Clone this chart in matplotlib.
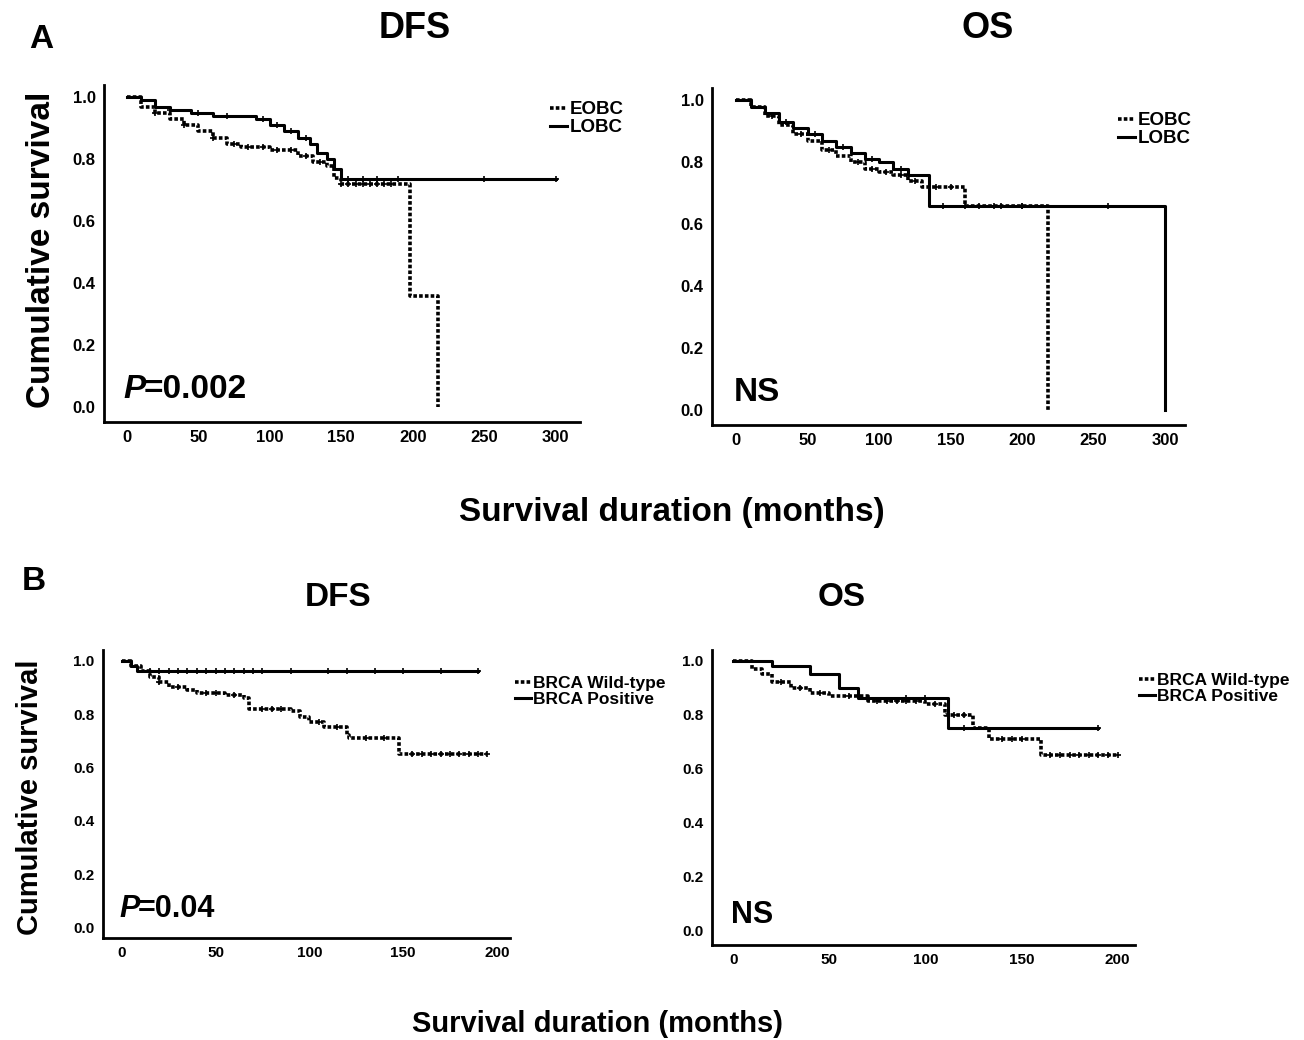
import numpy as np
import matplotlib
matplotlib.use("Agg")
import matplotlib.pyplot as plt

plt.rcParams['font.family'] = ['Liberation Sans', 'DejaVu Sans']
plt.rcParams['font.weight'] = 'bold'

# =========================================================
# DATA
# =========================================================

# Panel A DFS
a_dfs_eobc_t = [0, 10, 20, 30, 40, 50, 60, 70, 80, 100, 110, 120, 130, 140, 145, 150, 198, 218]
a_dfs_eobc_s = [1.0, 0.97, 0.95, 0.93, 0.91, 0.89, 0.87, 0.85, 0.84, 0.83, 0.83, 0.81, 0.79, 0.78, 0.74, 0.72, 0.36, 0.0]
a_dfs_eobc_c = [20, 40, 60, 75, 85, 95, 105, 115, 125, 135, 150, 155, 160, 165, 170, 175, 180, 185]
a_dfs_lobc_t = [0, 10, 20, 30, 45, 60, 80, 90, 100, 110, 120, 128, 133, 140, 145, 150]
a_dfs_lobc_s = [1.0, 0.99, 0.97, 0.96, 0.95, 0.94, 0.94, 0.93, 0.91, 0.89, 0.87, 0.85, 0.82, 0.80, 0.77, 0.735]
a_dfs_lobc_c = [30, 50, 70, 95, 105, 115, 125, 155, 165, 175, 190, 250, 300]

# Panel A OS
a_os_eobc_t = [0, 10, 20, 30, 40, 50, 60, 70, 80, 90, 100, 110, 120, 130, 160, 218]
a_os_eobc_s = [1.0, 0.98, 0.95, 0.92, 0.89, 0.87, 0.84, 0.82, 0.80, 0.78, 0.77, 0.76, 0.74, 0.72, 0.66, 0.0]
a_os_eobc_c = [25, 45, 65, 85, 95, 105, 115, 125, 140, 150, 170, 185, 200]
a_os_lobc_t = [0, 10, 20, 30, 40, 50, 60, 70, 80, 90, 100, 110, 120, 135, 300]
a_os_lobc_s = [1.0, 0.98, 0.96, 0.93, 0.91, 0.89, 0.87, 0.85, 0.83, 0.81, 0.80, 0.78, 0.76, 0.66, 0.0]
a_os_lobc_c = [35, 55, 75, 95, 115, 145, 160, 180, 200, 260]

# Panel B DFS
b_dfs_wt_t = [0, 5, 10, 15, 20, 25, 35, 40, 55, 65, 68, 90, 95, 100, 108, 120, 121, 148]
b_dfs_wt_s = [1.0, 0.98, 0.96, 0.94, 0.92, 0.90, 0.89, 0.88, 0.87, 0.86, 0.82, 0.81, 0.79, 0.77, 0.75, 0.72, 0.71, 0.65]
b_dfs_wt_c = [20, 30, 45, 50, 60, 75, 80, 85, 105, 115, 130, 140, 155, 160, 165, 170, 175, 180, 185, 190, 195]
b_dfs_pos_t = [0, 5, 8]
b_dfs_pos_s = [1.0, 0.98, 0.96]
b_dfs_pos_c = [15, 20, 25, 30, 35, 40, 45, 50, 55, 60, 65, 70, 75, 90, 110, 120, 135, 150, 170, 190]

# Panel B OS
b_os_wt_t = [0, 10, 15, 20, 30, 40, 50, 70, 100, 110, 125, 133, 160]
b_os_wt_s = [1.0, 0.97, 0.95, 0.92, 0.90, 0.88, 0.87, 0.85, 0.84, 0.80, 0.75, 0.71, 0.65]
b_os_wt_c = [25, 35, 45, 60, 75, 80, 85, 90, 95, 105, 115, 120, 140, 145, 150, 165, 170, 175, 180, 185, 190, 195, 200]
b_os_pos_t = [0, 20, 40, 55, 65, 112]
b_os_pos_s = [1.0, 0.98, 0.95, 0.90, 0.86, 0.75]
b_os_pos_c = [70, 90, 100, 120, 190]

a_ticks = [0, 50, 100, 150, 200, 250, 300]
b_ticks = [0, 50, 100, 150, 200]
y_ticks = [0.0, 0.2, 0.4, 0.6, 0.8, 1.0]

# =========================================================
# FIGURE
# =========================================================

fig = plt.figure(figsize=(13.04, 10.4), dpi=100)
W, H = 1304, 1040
DOT = (0, (1, 0.6))


def fx(x):
    return x / W


def fy(y):
    return 1 - y / H


def px_axes(left, top, right, bottom):
    return fig.add_axes([fx(left), fy(bottom), (right - left) / W, (bottom - top) / H])


def curve(ax, t, s, cens, dotted):
    ls = DOT if dotted else '-'
    lw = 2.6 if dotted else 2.2
    t_end = max(max(cens) if cens else 0, t[-1])
    tt = list(t) + [t_end]
    ss = list(s) + [s[-1]]
    ax.step(tt, ss, where='post', color='black', linestyle=ls, linewidth=lw)
    cs = [s[np.searchsorted(t, c, side='right') - 1] for c in cens]
    ax.plot(cens, cs, linestyle='none', marker='+', color='black', markersize=5, markeredgewidth=1.2)


def style(ax, ticks, xlim, ylim, fs):
    ax.set_xticks(ticks)
    ax.set_yticks(y_ticks)
    ax.set_yticklabels([f"{v:.1f}" for v in y_ticks])
    ax.set_xlim(*xlim)
    ax.set_ylim(*ylim)
    for sp in ['top', 'right']:
        ax.spines[sp].set_visible(False)
    for sp in ['left', 'bottom']:
        ax.spines[sp].set_linewidth(2)
    ax.tick_params(length=0, labelsize=fs, pad=6)
    for lb in ax.get_xticklabels() + ax.get_yticklabels():
        lb.set_fontweight('bold')


# axes box (px), ticks, xlim, ylim, title + title pos, p-value, curves, legend labels + pos, sizes
panels = [
    (px_axes(104, 85, 580, 422), a_ticks, (-16, 317), (-0.048, 1.04), "DFS", (415, 28), "P", "=0.002",
     [(a_dfs_eobc_t, a_dfs_eobc_s, a_dfs_eobc_c, True), (a_dfs_lobc_t, a_dfs_lobc_s, a_dfs_lobc_c, False)],
     ["EOBC", "LOBC"], (550, 101), 12, 24, 13.5),
    (px_axes(712, 88, 1185, 425), a_ticks, (-17, 314), (-0.048, 1.04), "OS", (988, 28), None, "NS",
     [(a_os_eobc_t, a_os_eobc_s, a_os_eobc_c, True), (a_os_lobc_t, a_os_lobc_s, a_os_lobc_c, False)],
     ["EOBC", "LOBC"], (1118, 112), 12, 24, 13.5),
    (px_axes(103, 650, 510, 938), b_ticks, (-10, 207), (-0.04, 1.04), "DFS", (338, 598), "P", "=0.04",
     [(b_dfs_wt_t, b_dfs_wt_s, b_dfs_wt_c, True), (b_dfs_pos_t, b_dfs_pos_s, b_dfs_pos_c, False)],
     ["BRCA Wild-type", "BRCA Positive"], (515, 676), 11, 22, 12.5),
    (px_axes(712, 650, 1135, 945), b_ticks, (-11, 209), (-0.055, 1.04), "OS", (842, 598), None, "NS",
     [(b_os_wt_t, b_os_wt_s, b_os_wt_c, True), (b_os_pos_t, b_os_pos_s, b_os_pos_c, False)],
     ["BRCA Wild-type", "BRCA Positive"], (1139, 673), 11, 22, 12.5),
]

fig.canvas.draw()
renderer = fig.canvas.get_renderer()

for ax, ticks, xlim, ylim, title, tpos, pit, ptxt, curves, labels, lpos, fs, pfs, lfs in panels:
    for t, s, c, dotted in curves:
        curve(ax, t, s, c, dotted)
    style(ax, ticks, xlim, ylim, fs)
    h1, = ax.plot([], [], color='black', linestyle=DOT, linewidth=2.6)
    h2, = ax.plot([], [], color='black', linewidth=2.2)
    fig.legend([h1, h2], labels, loc='upper left', bbox_to_anchor=(fx(lpos[0]), fy(lpos[1])),
               frameon=False, handlelength=0.9, handletextpad=0.15, labelspacing=0.05,
               borderpad=0, borderaxespad=0, prop={'weight': 'bold', 'size': lfs})
    if pit:
        tp = ax.text(0.04, 0.05, pit, transform=ax.transAxes, fontsize=pfs,
                     fontweight='bold', style='italic', va='bottom')
        bb = tp.get_window_extent(renderer).transformed(ax.transAxes.inverted())
        ax.text(bb.x1 - 0.004, 0.05, ptxt, transform=ax.transAxes, fontsize=pfs,
                fontweight='bold', va='bottom')
    else:
        ax.text(0.045, 0.05, ptxt, transform=ax.transAxes, fontsize=pfs, fontweight='bold', va='bottom')
    fig.text(fx(tpos[0]), fy(tpos[1]), title, fontsize=pfs + 2, fontweight='bold', ha='center', va='center')

fig.text(fx(41), fy(40), "A", fontsize=24, fontweight='bold', ha='center', va='center')
fig.text(fx(34), fy(582), "B", fontsize=24, fontweight='bold', ha='center', va='center')
fig.text(fx(42), fy(250), "Cumulative survival", fontsize=24, fontweight='bold',
         rotation=90, ha='center', va='center')
fig.text(fx(30), fy(797), "Cumulative survival", fontsize=21, fontweight='bold',
         rotation=90, ha='center', va='center')
fig.text(fx(672), fy(512), "Survival duration (months)", fontsize=24, fontweight='bold',
         ha='center', va='center')
fig.text(fx(597), fy(1024), "Survival duration (months)", fontsize=21, fontweight='bold',
         ha='center', va='center')

fig.savefig("out.png", dpi=100, facecolor='white')
